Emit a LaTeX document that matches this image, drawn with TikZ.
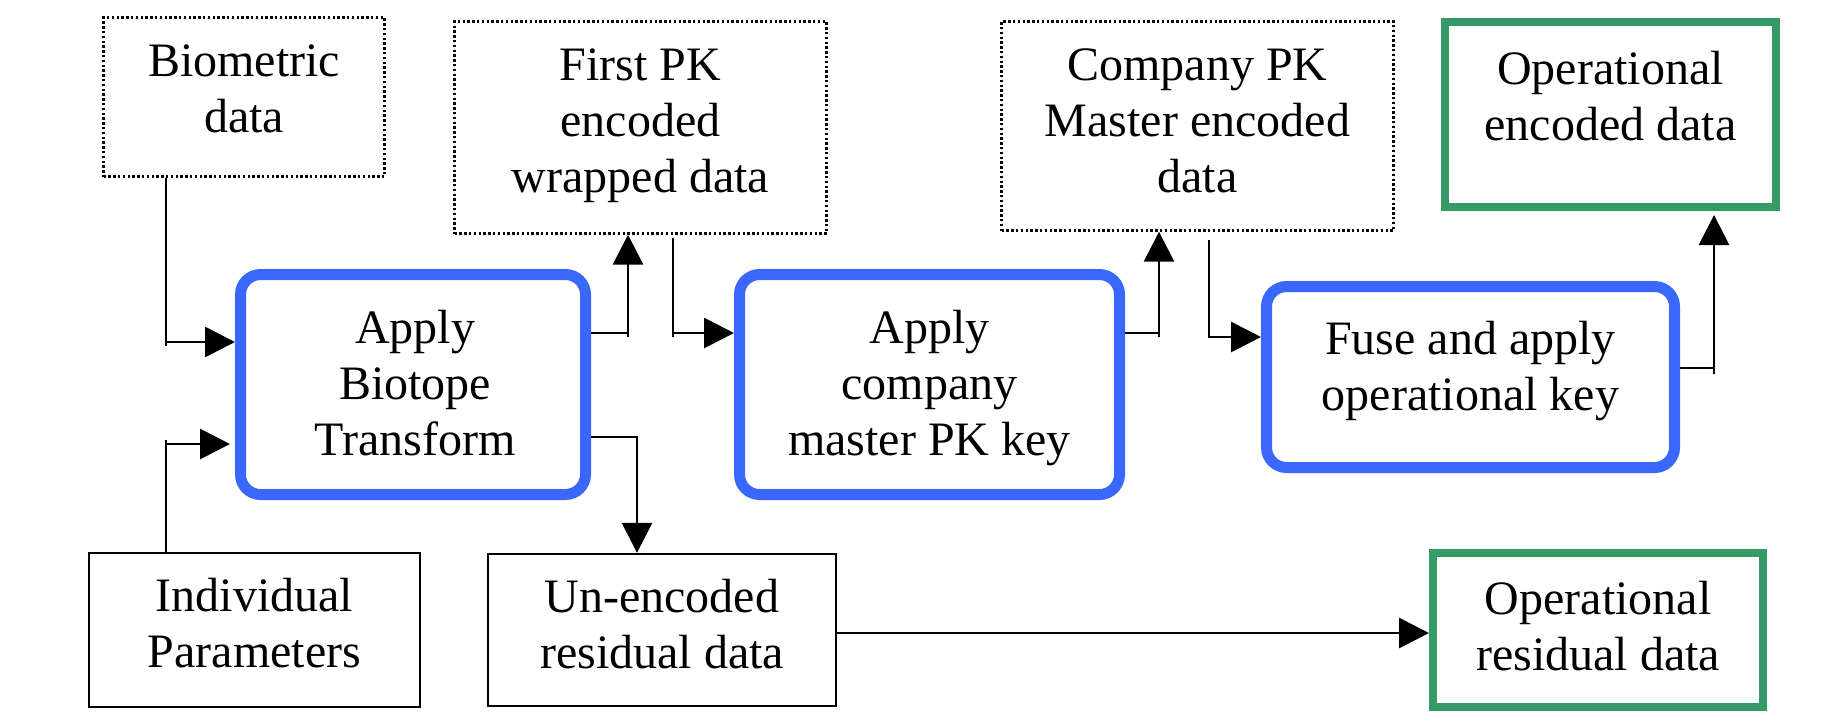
\documentclass[tikz,border=0pt]{standalone}
\usepackage{fontspec}
\setmainfont{Liberation Serif}
\usetikzlibrary{arrows.meta}
\definecolor{kblue}{RGB}{58,104,255}
\definecolor{kgreen}{RGB}{53,154,104}
\tikzset{
  txt/.style={inner sep=0pt, anchor=base, align=center, font=\fontsize{24}{28}\selectfont},
  dotbox/.style={draw=black, line width=1.2pt, dash pattern=on 1.2pt off 1.2pt, inner sep=0pt},
  plainbox/.style={draw=black, line width=1.2pt, inner sep=0pt},
  procbox/.style={draw=kblue, line width=5.5pt, rounded corners=10pt, inner sep=0pt},
  outbox/.style={draw=kgreen, line width=4pt, inner sep=0pt},
  conn/.style={draw=black, line width=1.4pt, -{Triangle[length=15pt,width=15pt]}},
  overshoot/.style={draw=black, line width=1.4pt},
}
\begin{document}
\begin{tikzpicture}[x=0.5pt,y=-0.5pt]
\useasboundingbox (0,0) rectangle (1829,725);
\fill[white] (0,0) rectangle (1829,725);
% boxes
\node[dotbox, minimum width=140.5pt, minimum height=79.5pt] (bio) at (244,97) {};
\node[dotbox, minimum width=186pt, minimum height=106pt] (fpk) at (640.5,127.5) {};
\node[dotbox, minimum width=196pt, minimum height=104.5pt] (cpk) at (1197.5,126) {};
\node[outbox, minimum width=165.5pt, minimum height=92.5pt] (oe) at (1610.5,114.5) {};
\node[procbox, minimum width=172.5pt, minimum height=110pt] (ap1) at (413,384.5) {};
\node[procbox, minimum width=190pt, minimum height=110pt] (ap2) at (929.5,384.5) {};
\node[procbox, minimum width=204pt, minimum height=90.5pt] (fu) at (1470.5,377) {};
\node[plainbox, minimum width=165.5pt, minimum height=77pt] (ind) at (254.5,630) {};
\node[plainbox, minimum width=174pt, minimum height=76pt] (ue) at (662,630) {};
\node[outbox, minimum width=165pt, minimum height=77pt] (ore) at (1598,630) {};
% texts (anchor = baseline of last line)
\node[txt] (biot) at (244,132) {Biometric\\data};
\node[txt] (fpkt) at (640.5,192) {First PK\\encoded\\wrapped data};
\node[txt] (cpkt) at (1197.5,192) {Company PK\\Master encoded\\data};
\node[txt] (oet) at (1610.5,140) {Operational\\encoded data};
\node[txt] (ap1t) at (415,455) {Apply\\Biotope\\Transform};
\node[txt] (ap2t) at (929.5,455) {Apply\\company\\master PK key};
\node[txt] (fut) at (1470.5,410) {Fuse and apply\\operational key};
\node[txt] (indt) at (254.5,667) {Individual\\Parameters};
\node[txt] (uet) at (662,668) {Un-encoded\\residual data};
\node[txt] (oret) at (1598,670) {Operational\\residual data};
% corner coordinates
\coordinate (cBio) at (166,342);
\coordinate (cInd) at (166,444);
\coordinate (cAF) at (628,333);
\coordinate (cFA) at (673,333);
\coordinate (cAU) at (637,437);
\coordinate (cAC) at (1159,333);
\coordinate (cCF) at (1209,337);
\coordinate (cFO) at (1714,368);
\coordinate (cUO) at (0,633);
% connectors
\draw[conn] (bio.south -| cBio) |- (ap1.west |- cBio);
\draw[conn, shorten >=2.5pt] (ind.north -| cInd) |- (ap1.west |- cInd);
\draw[conn] (ap1.east |- cAF) -| (fpk.south -| cAF);
\draw[conn, shorten <=1.5pt] (fpk.south -| cFA) |- (ap2.west |- cFA);
\draw[conn] (ap1.east |- cAU) -| (ue.north -| cAU);
\draw[conn] (ap2.east |- cAC) -| (cpk.south -| cAC);
\draw[conn, shorten <=4pt] (cpk.south -| cCF) |- (fu.west |- cCF);
\draw[conn, shorten >=2pt] (fu.east |- cFO) -| (oe.south -| cFO);
\draw[conn] (ue.east |- cUO) -- (ore.west |- cUO);
% small overshoots of the elbow connectors
\draw[overshoot] (cBio) -- ++(0,4);
\draw[overshoot] (cInd) -- ++(0,-4);
\draw[overshoot] (cAF) -- ++(0,4);
\draw[overshoot] (cFA) -- ++(0,4);
\draw[overshoot] (cAC) -- ++(0,4);
\draw[overshoot] (cFO) -- ++(0,6);
\end{tikzpicture}
\end{document}
